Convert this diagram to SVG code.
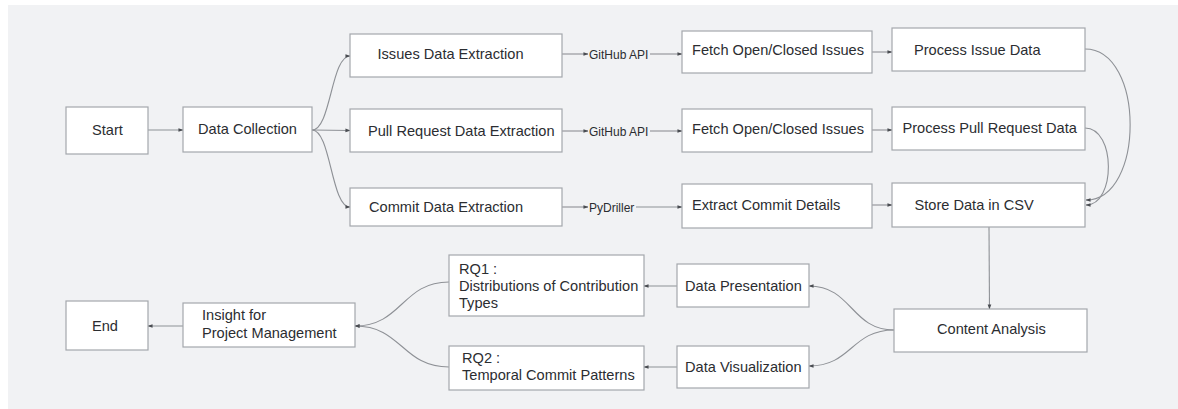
<svg xmlns="http://www.w3.org/2000/svg" width="1178" height="409" viewBox="0 0 1178 409">
<defs>
<marker id="ah" viewBox="0 0 6 6" refX="5.5" refY="3" markerWidth="5" markerHeight="5" markerUnits="userSpaceOnUse" orient="auto">
<path d="M0,0.8 L6,3 L0,5.2 Z" fill="#4a4d52"/>
</marker>
<style>
.box{fill:#ffffff;stroke:#a4a7ac;stroke-width:1.2}
.t{font-family:"Liberation Sans",Arial,sans-serif;font-size:14.6px;fill:#2b2d31}
.lbl{font-family:"Liberation Sans",Arial,sans-serif;font-size:12px;fill:#2b2d31}
.c{fill:none;stroke:#8e9196;stroke-width:1.1;marker-end:url(#ah)}
.cn{fill:none;stroke:#8e9196;stroke-width:1.1}
</style>
</defs>
<rect x="0" y="0" width="1178" height="409" fill="#ffffff"/>
<rect x="8" y="5" width="1170" height="404" fill="#f1f2f4"/>

<g id="connectors">
<path class="c" d="M148,130 L183,130"/>
<path class="c" d="M312,130 C331,130 331,56 350,56"/>
<path class="c" d="M312,130 L350,130.5"/>
<path class="c" d="M312,130 C331,130 331,207 350,207"/>
<path class="c" d="M562,54 L588,54"/>
<path class="c" d="M650,54 L682,54"/>
<path class="c" d="M562,131 L588,131"/>
<path class="c" d="M650,131 L682,131"/>
<path class="c" d="M562,207 L588,207"/>
<path class="c" d="M636,207 L682,207"/>
<path class="c" d="M872,52 L892,52"/>
<path class="c" d="M872,130 L892,130"/>
<path class="c" d="M872,205 L892,205"/>
<path class="c" d="M1085,49 C1145,49 1145,200 1086,200"/>
<path class="c" d="M1085,128 C1116,128 1116,205 1086,205"/>
<path class="c" d="M989,227 L989.5,309"/>
<path class="c" d="M894,330 C851,330 852,286 809,286"/>
<path class="c" d="M894,330 C851,330 852,366 809,366"/>
<path class="c" d="M677,286 L644,286"/>
<path class="c" d="M677,367 L644,367"/>
<path class="c" d="M449,282 C402,282 402,326 355,326"/>
<path class="c" d="M449,367 C402,367 402,326 355,326"/>
<path class="c" d="M183,326 L148,326"/>
</g>

<g id="start"><rect class="box" x="66" y="107" width="82" height="47"/><text class="t" x="92" y="135">Start</text></g>
<g id="data-collection"><rect class="box" x="183" y="107" width="129" height="45"/><text class="t" x="198" y="134">Data Collection</text></g>
<g id="issues-extraction"><rect class="box" x="350" y="34" width="212" height="43"/><text class="t" x="377.5" y="59">Issues Data Extraction</text></g>
<g id="pr-extraction"><rect class="box" x="350" y="109" width="212" height="43"/><text class="t" x="368" y="136">Pull Request Data Extraction</text></g>
<g id="commit-extraction"><rect class="box" x="350" y="188" width="212" height="38"/><text class="t" x="369" y="212">Commit Data Extraction</text></g>
<g id="label-github-1"><text class="lbl" x="589" y="58.5">GitHub API</text></g>
<g id="label-github-2"><text class="lbl" x="589" y="135.5">GitHub API</text></g>
<g id="label-pydriller"><text class="lbl" x="589" y="211.5">PyDriller</text></g>
<g id="fetch-issues"><rect class="box" x="682" y="31" width="190" height="42"/><text class="t" x="692" y="55">Fetch Open/Closed Issues</text></g>
<g id="fetch-pr"><rect class="box" x="682" y="109" width="190" height="43"/><text class="t" x="692" y="134">Fetch Open/Closed Issues</text></g>
<g id="extract-commit"><rect class="box" x="682" y="184" width="190" height="44"/><text class="t" x="692" y="210">Extract Commit Details</text></g>
<g id="process-issue"><rect class="box" x="892" y="28" width="193" height="43"/><text class="t" x="914" y="55">Process Issue Data</text></g>
<g id="process-pr"><rect class="box" x="892" y="107" width="193" height="43"/><text class="t" x="902.5" y="133">Process Pull Request Data</text></g>
<g id="store-csv"><rect class="box" x="892" y="183" width="193" height="44"/><text class="t" x="914.5" y="210">Store Data in CSV</text></g>
<g id="content-analysis"><rect class="box" x="894" y="309" width="193" height="43"/><text class="t" x="937" y="334">Content Analysis</text></g>
<g id="data-presentation"><rect class="box" x="677" y="264" width="132" height="43"/><text class="t" x="685" y="290.5">Data Presentation</text></g>
<g id="data-visualization"><rect class="box" x="677" y="346" width="132" height="42"/><text class="t" x="685" y="372">Data Visualization</text></g>
<g id="rq1"><rect class="box" x="449" y="255" width="195" height="61"/><text class="t" x="459" y="273.5">RQ1 :</text><text class="t" x="459" y="290.5">Distributions of Contribution</text><text class="t" x="459" y="308">Types</text></g>
<g id="rq2"><rect class="box" x="449" y="346" width="195" height="44"/><text class="t" x="462" y="363">RQ2 :</text><text class="t" x="462" y="380">Temporal Commit Patterns</text></g>
<g id="insight"><rect class="box" x="183" y="303" width="172" height="44"/><text class="t" x="202" y="320">Insight for</text><text class="t" x="202" y="337.5">Project Management</text></g>
<g id="end"><rect class="box" x="66" y="301" width="82" height="49"/><text class="t" x="92" y="331">End</text></g>
</svg>
